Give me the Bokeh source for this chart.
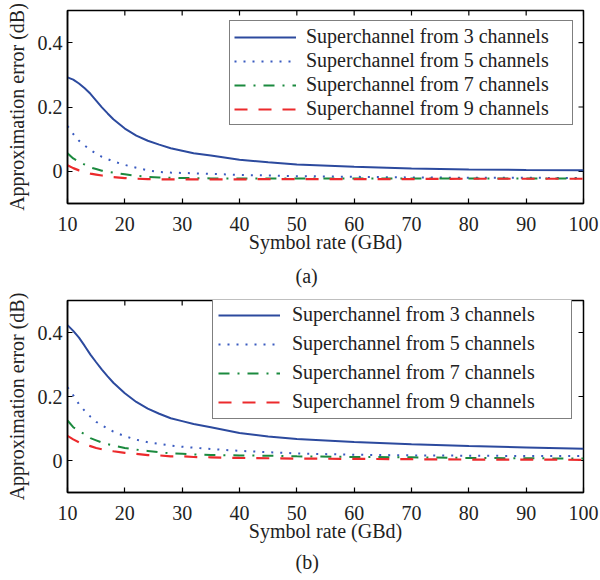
import math
from bokeh.plotting import figure
from bokeh.layouts import column
from bokeh.models import (FixedTicker, CustomJSTickFormatter, Legend,
                          LegendItem, Title, Range1d)
from bokeh.embed import file_html
from bokeh.resources import INLINE

# ---------------- data ----------------
symbol_rate = [10, 11, 12, 13, 14, 15, 16, 17, 18, 20, 22, 24, 26, 28, 30, 32, 35,
               40, 45, 50, 60, 70, 80, 90, 100]

# panel (a)
a_3ch = [0.292, 0.285, 0.273, 0.258, 0.241, 0.220, 0.199, 0.180, 0.162, 0.133, 0.111,
         0.095, 0.083, 0.072, 0.064, 0.056, 0.049, 0.036, 0.028, 0.021, 0.014, 0.009,
         0.006, 0.004, 0.003]
a_5ch = [0.141, 0.116, 0.095, 0.080, 0.066, 0.055, 0.045, 0.038, 0.031, 0.020, 0.011,
         0.003, -0.002, -0.004, -0.005, -0.006, -0.008, -0.011, -0.013, -0.015, -0.017,
         -0.019, -0.020, -0.020, -0.021]
a_7ch = [0.056, 0.040, 0.030, 0.021, 0.012, 0.007, 0.002, -0.001, -0.004, -0.009, -0.014,
         -0.017, -0.019, -0.020, -0.021, -0.021, -0.022, -0.022, -0.022, -0.022, -0.022,
         -0.022, -0.022, -0.022, -0.022]
a_9ch = [0.019, 0.010, 0.003, -0.002, -0.007, -0.010, -0.013, -0.015, -0.018, -0.021,
         -0.023, -0.024, -0.025, -0.025, -0.025, -0.025, -0.025, -0.025, -0.024, -0.024,
         -0.024, -0.024, -0.023, -0.023, -0.023]

# panel (b)
b_3ch = [0.423, 0.405, 0.384, 0.358, 0.331, 0.307, 0.284, 0.263, 0.243, 0.210, 0.183,
         0.162, 0.146, 0.132, 0.123, 0.114, 0.104, 0.086, 0.075, 0.067, 0.058, 0.051,
         0.045, 0.041, 0.037]
b_5ch = [0.229, 0.204, 0.176, 0.155, 0.137, 0.121, 0.110, 0.100, 0.090, 0.076, 0.065,
         0.057, 0.052, 0.047, 0.043, 0.040, 0.036, 0.030, 0.026, 0.022, 0.018, 0.016,
         0.015, 0.014, 0.014]
b_7ch = [0.125, 0.104, 0.092, 0.082, 0.070, 0.063, 0.056, 0.051, 0.047, 0.039, 0.034,
         0.030, 0.026, 0.022, 0.021, 0.019, 0.017, 0.016, 0.015, 0.013, 0.011, 0.010,
         0.008, 0.007, 0.006]
b_9ch = [0.077, 0.066, 0.057, 0.050, 0.045, 0.039, 0.035, 0.032, 0.029, 0.024, 0.021,
         0.017, 0.016, 0.013, 0.013, 0.011, 0.010, 0.008, 0.007, 0.006, 0.005, 0.004,
         0.003, 0.003, 0.002]

series_labels = ["Superchannel from 3 channels", "Superchannel from 5 channels",
                 "Superchannel from 7 channels", "Superchannel from 9 channels"]
x_ticks = [10, 20, 30, 40, 50, 60, 70, 80, 90, 100]
y_ticks = [0, 0.2, 0.4]
x_limits = [10, 100]
y_limits = [-0.1, 0.5]
x_label = "Symbol rate (GBd)"
y_label = "Approximation error (dB)"

# ---------------- style ----------------
FONT = "Liberation Serif"
TXT = "#222222"
COLORS = ["#2c4a9e", "#3a5bc0", "#1b8a3e", "#ec2a2c"]
DASHES = ["solid", "2 7", "11 8 2 8", "13 11"]
WIDTHS = [2, 2, 2, 2.2]


def style_axis(ax):
    ax.major_tick_in = 5
    ax.major_tick_out = 0
    ax.minor_tick_line_color = None
    ax.major_tick_line_color = "black"
    ax.major_tick_line_width = 1.2
    ax.axis_line_color = "black"
    ax.axis_line_width = 1.5
    ax.major_label_text_font = FONT
    ax.major_label_text_font_size = "20px"
    ax.major_label_text_color = TXT
    ax.axis_label_text_font = FONT
    ax.axis_label_text_font_style = "normal"
    ax.axis_label_text_font_size = "20px"
    ax.axis_label_text_color = TXT


def make_panel(series, caption, height, border_top, border_bottom,
               legend_loc, legend_margin, legend_padding, legend_spacing,
               legend_standoff, legend_label_width, title_standoff):
    p = figure(width=600, height=height,
               x_range=Range1d(*x_limits), y_range=Range1d(*y_limits),
               output_backend="svg", toolbar_location=None,
               min_border_left=67, min_border_right=17,
               min_border_top=border_top, min_border_bottom=border_bottom,
               x_axis_label=x_label, y_axis_label=y_label)
    p.grid.visible = False
    p.outline_line_color = "black"
    p.outline_line_width = 1.5
    p.background_fill_color = "white"
    p.border_fill_color = "white"

    xa = p.xaxis[0]
    ya = p.yaxis[0]
    style_axis(xa)
    style_axis(ya)
    xa.ticker = FixedTicker(ticks=x_ticks)
    ya.ticker = FixedTicker(ticks=y_ticks)
    ya.formatter = CustomJSTickFormatter(code="return String(Math.round(tick*10)/10);")
    xa.major_label_standoff = 13
    xa.axis_label_standoff = -3
    ya.major_label_standoff = 5
    ya.axis_label_standoff = 7

    # inward tick marks on the top and right edges of the box (clipped to the frame)
    p.scatter(x_ticks, [y_limits[1]] * len(x_ticks), marker="dash", angle=math.pi / 2,
              size=10, line_color="black", line_width=1.2)
    p.scatter([x_limits[1]] * len(y_ticks), y_ticks, marker="dash",
              size=10, line_color="black", line_width=1.2)

    items = []
    for ys, lab, col, dash, w in zip(series, series_labels, COLORS, DASHES, WIDTHS):
        r = p.line(symbol_rate, ys, line_color=col, line_dash=dash, line_width=w)
        items.append(LegendItem(label=lab, renderers=[r]))

    leg = Legend(items=items, location=legend_loc,
                 border_line_color="black", border_line_width=1.5,
                 background_fill_color="white", background_fill_alpha=1.0,
                 label_text_font=FONT, label_text_font_size="20px",
                 label_text_color=TXT,
                 glyph_width=62, glyph_height=20, label_height=20,
                 label_width=legend_label_width,
                 label_standoff=legend_standoff, padding=legend_padding,
                 spacing=legend_spacing, margin=legend_margin)
    p.add_layout(leg)

    cap = Title(text=caption, align="left", text_font=FONT,
                text_font_size="20px", text_font_style="normal",
                text_color=TXT, standoff=title_standoff, offset=228)
    p.add_layout(cap, "below")
    return p


p1 = make_panel([a_3ch, a_5ch, a_7ch, a_9ch], "(a)", 293, 10, 90,
                "top_right", 10, 4, 1, 10, 262, 14)
p2 = make_panel([b_3ch, b_5ch, b_7ch, b_9ch], "(b)", 287, 7, 88,
                (145, 73), 0, 5, 6, 12, 274, 8)

layout = column(p1, p2, spacing=0)
open("out.html", "w").write(file_html(layout, INLINE))
